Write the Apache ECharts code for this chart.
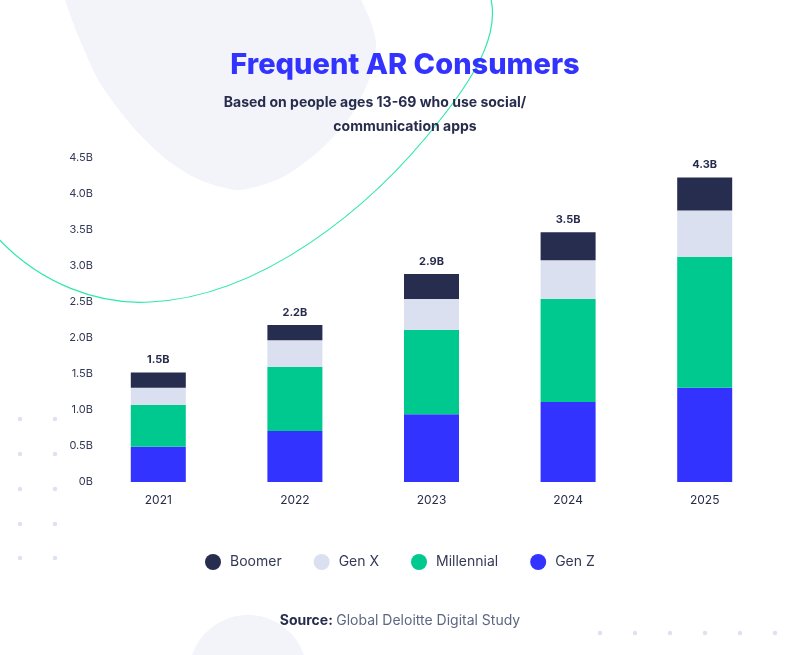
<!DOCTYPE html>
<html>
<head>
<meta charset="utf-8">
<script src="https://cdn.jsdelivr.net/npm/echarts@6/dist/echarts.min.js"></script>
<style>
  html, body { margin: 0; padding: 0; background: #ffffff; }
  #chart { width: 800px; height: 655px; }
</style>
</head>
<body>
<div id="chart"></div>
<script>
const years = ['2021', '2022', '2023', '2024', '2025'];
const genZ = [0.49, 0.71, 0.94, 1.11, 1.31];
const millennial = [0.58, 0.89, 1.17, 1.43, 1.82];
const genX = [0.24, 0.37, 0.43, 0.54, 0.64];
const boomer = [0.21, 0.21, 0.35, 0.39, 0.46];
const totalLabels = ['1.5B', '2.2B', '2.9B', '3.5B', '4.3B'];
const yTicks = [0, 0.5, 1, 1.5, 2, 2.5, 3, 3.5, 4, 4.5];

const FONT = 'Inter, "Noto Sans", sans-serif';
const chart = echarts.init(document.getElementById('chart'), null, { renderer: 'canvas' });

const dots = [
  [20, 419], [55, 419], [20, 454], [55, 454], [20, 489], [55, 489],
  [20, 524], [55, 524], [20, 558], [55, 558],
  [600, 633], [635, 633], [670, 633], [705, 633], [740, 633], [775, 633]
];

const graphics = [
  {
    type: 'polygon', z: -10, silent: true,
    shape: {
      points: [[60, -12], [65, 0], [77, 33], [100, 83], [133, 127], [167, 160], [200, 180], [239, 190],
               [283, 177], [320, 150], [350, 117], [370, 77], [376, 43], [368, 15], [350, -12]],
      smooth: 0.25
    },
    style: { fill: '#f3f4f9' }
  },
  {
    type: 'circle', z: -10, silent: true,
    shape: { cx: 248, cy: 674, r: 59 },
    style: { fill: '#f3f4f9' }
  },
  {
    type: 'bezierCurve', z: -9, silent: true,
    shape: { x1: -5, y1: 235, cpx1: 40, cpy1: 285, cpx2: 100, cpy2: 305, x2: 150, y2: 302 },
    style: { fill: null, stroke: '#2ee8a8', lineWidth: 1.2 }
  },
  {
    type: 'bezierCurve', z: -9, silent: true,
    shape: { x1: 150, y1: 302, cpx1: 260, cpy1: 297, cpx2: 370, cpy2: 210, x2: 440, y2: 120 },
    style: { fill: null, stroke: '#2ee8a8', lineWidth: 1.2 }
  },
  {
    type: 'bezierCurve', z: -9, silent: true,
    shape: { x1: 440, y1: 120, cpx1: 480, cpy1: 70, cpx2: 500, cpy2: 30, x2: 490, y2: -5 },
    style: { fill: null, stroke: '#2ee8a8', lineWidth: 1.2 }
  },
  {
    type: 'text', left: 'center', top: 614,
    style: {
      text: '{b|Source:} {n|Global Deloitte Digital Study}',
      rich: {
        b: { fontFamily: FONT, fontSize: 14, fontWeight: 700, fill: '#272c4d' },
        n: { fontFamily: FONT, fontSize: 14, fill: '#5d6782' }
      }
    }
  }
];
dots.forEach(p => graphics.push({
  type: 'circle', z: -9, silent: true,
  shape: { cx: p[0], cy: p[1], r: 2.2 }, style: { fill: '#dde2ef' }
}));

const option = {
  backgroundColor: '#ffffff',
  animation: false,
  textStyle: { fontFamily: FONT },
  title: [
    {
      text: 'Frequent AR Consumers',
      left: 400, top: 46, textAlign: 'center',
      textStyle: { fontFamily: FONT, fontSize: 29, fontWeight: 800, color: '#3333ff' }
    },
    {
      text: 'Based on people ages 13-69 who use social/',
      left: 370, top: 91, textAlign: 'center',
      textStyle: { fontFamily: FONT, fontSize: 14, fontWeight: 700, color: '#272c4d' }
    },
    {
      text: 'communication apps',
      left: 400, top: 115, textAlign: 'center',
      textStyle: { fontFamily: FONT, fontSize: 14, fontWeight: 700, color: '#272c4d' }
    }
  ],
  graphic: graphics,
  legend: {
    data: ['Boomer', 'Gen X', 'Millennial', 'Gen Z'],
    left: 200, top: 549,
    icon: 'circle', itemWidth: 16, itemHeight: 16, itemGap: 32,
    textStyle: { fontFamily: FONT, fontSize: 14, color: '#333a55', padding: [0, 0, 0, 4] }
  },
  grid: { left: 90, right: 27, top: 158, bottom: 173, containLabel: false },
  xAxis: {
    type: 'category', data: years,
    axisLine: { show: false }, axisTick: { show: false },
    axisLabel: { fontFamily: FONT, fontSize: 12, color: '#272c4d', margin: 12 }
  },
  yAxis: {
    type: 'value', min: 0, max: 4.5, interval: 0.5,
    splitLine: { show: false }, axisLine: { show: false }, axisTick: { show: false },
    axisLabel: {
      fontFamily: FONT, fontSize: 11, color: '#333a55', margin: -3,
      formatter: v => (yTicks.indexOf(v) >= 0 ? (v === 0 ? '0B' : v.toFixed(1) + 'B') : '')
    }
  },
  series: [
    { name: 'Gen Z', type: 'bar', stack: 'a', barWidth: 55, data: genZ, itemStyle: { color: '#3333ff' } },
    { name: 'Millennial', type: 'bar', stack: 'a', barWidth: 55, data: millennial, itemStyle: { color: '#00c98f' } },
    { name: 'Gen X', type: 'bar', stack: 'a', barWidth: 55, data: genX, itemStyle: { color: '#dae0ef' } },
    {
      name: 'Boomer', type: 'bar', stack: 'a', barWidth: 55, data: boomer, itemStyle: { color: '#272d4e' },
      label: {
        show: true, position: 'top', distance: 7,
        fontFamily: FONT, fontSize: 11, fontWeight: 700, color: '#272c4d',
        formatter: p => totalLabels[p.dataIndex]
      }
    }
  ]
};
chart.setOption(option);
</script>
</body>
</html>
